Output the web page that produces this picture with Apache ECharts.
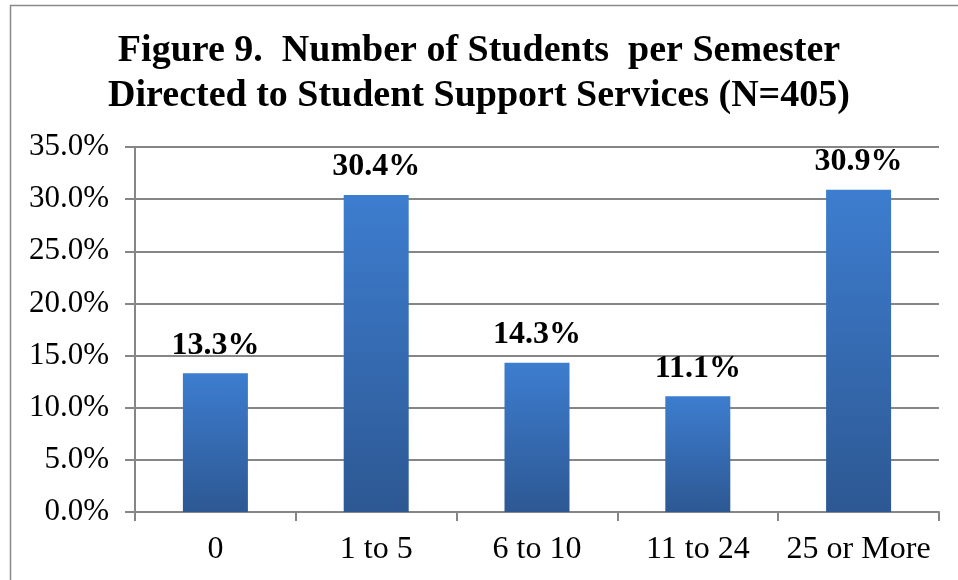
<!DOCTYPE html>
<html><head><meta charset="utf-8">
<script src="https://cdn.jsdelivr.net/npm/echarts@6/dist/echarts.min.js"></script>
<style>html,body{margin:0;padding:0;background:#fff}#c{width:958px;height:580px}</style>
</head><body><div id="c"></div>
<script>
const categories = ['0', '1 to 5', '6 to 10', '11 to 24', '25 or More'];
const values = [13.3, 30.4, 14.3, 11.1, 30.9];
const titleLines = ['Figure 9.  Number of Students  per Semester', 'Directed to Student Support Services (N=405)'];

const chart = echarts.init(document.getElementById('c'));
const serif = '"Liberation Serif", "Times New Roman", serif';
chart.setOption({
  animation: false,
  title: {
    text: titleLines.join('\n'),
    left: 'center', top: 24,
    textStyle: { fontFamily: serif, fontWeight: 'bold', fontSize: 38, lineHeight: 45, color: '#000' }
  },
  graphic: [{
    type: 'rect', shape: { x: 10.5, y: 5.5, width: 1000, height: 1000 },
    style: { fill: 'none', stroke: '#8a8a8a', lineWidth: 1.5 }, silent: true
  }],
  grid: { left: 135, right: 19, top: 147, bottom: 68 },
  xAxis: {
    type: 'category', data: categories,
    axisLine: { lineStyle: { color: '#868686', width: 2 } },
    axisTick: { show: true, length: 9, interval: 0, lineStyle: { color: '#868686', width: 2 } },
    axisLabel: { fontFamily: serif, fontSize: 32, color: '#000', margin: 22, interval: 0 }
  },
  yAxis: {
    type: 'value', min: 0, max: 35, interval: 5,
    axisLine: { show: true, lineStyle: { color: '#868686', width: 2 } },
    axisTick: { show: true, length: 10, lineStyle: { color: '#868686', width: 2 } },
    splitLine: { lineStyle: { color: '#868686', width: 2 } },
    axisLabel: { fontFamily: serif, fontSize: 31, color: '#000', margin: 26, formatter: v => v.toFixed(1) + '%' }
  },
  series: [{
    type: 'bar', data: values, barWidth: 65,
    itemStyle: {
      color: new echarts.graphic.LinearGradient(0, 0, 0, 1, [
        { offset: 0, color: '#3d7dcf' }, { offset: 1, color: '#2d5893' }
      ])
    },
    label: {
      show: true, position: 'top', distance: 12,
      fontFamily: serif, fontWeight: 'bold', fontSize: 32, color: '#000',
      formatter: p => p.value.toFixed(1) + '%'
    }
  }]
});
</script></body></html>
